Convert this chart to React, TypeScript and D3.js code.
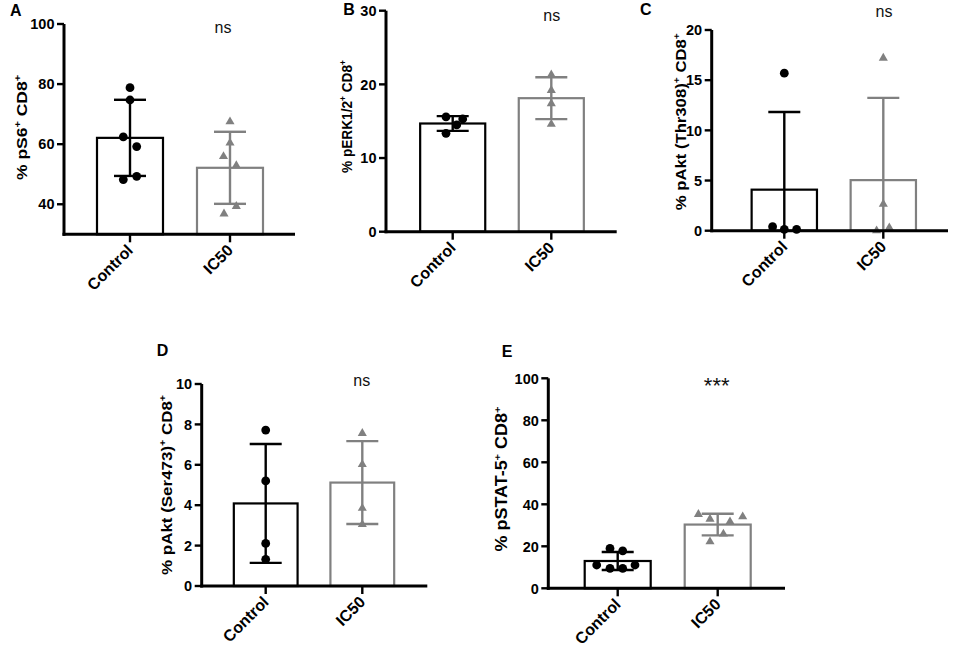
import React from 'react';
import * as d3 from 'd3';

// ---------------- data ----------------
const categories = ['Control', 'IC50'];

const pS6Control = [78.8, 74.7, 62.4, 59.2, 48.2, 49.3];
const pS6IC50 = [67.5, 60.4, 55.9, 52.9, 39.3, 36.8];

const pERKControl = [15.6, 15.3, 14.5, 13.35];
const pERKIC50 = [21.3, 19.2, 17.4, 14.6];

const pAktThrControl = [15.7, 0.4, 0.13, 0.13];
const pAktThrIC50 = [17.2, 2.66, 0.0, 0.3];

const pAktSerControl = [7.72, 5.2, 2.11, 1.32];
const pAktSerIC50 = [7.56, 6.02, 3.85, 3.05];

const pSTATControl = [19.0, 17.8, 11.1, 11.1, 9.5, 9.5];
const pSTATIC50 = [35.2, 33.0, 34.1, 31.7, 25.9, 22.2];

const ticksA = [40, 60, 80, 100];
const ticksB = [0, 10, 20, 30];
const ticksC = [0, 5, 10, 15, 20];
const ticksD = [0, 2, 4, 6, 8, 10];
const ticksE = [0, 20, 40, 60, 80, 100];

const significance = ['ns', 'ns', 'ns', 'ns', '***'];

// horizontal scatter offsets of the points (layout, px)
const jitterA = [[0, 0, -6.7, 6.7, -6.7, 6.7], [0, 0, -6.5, 6.3, 6.3, -6]];
const jitterB = [[-6.7, 10, 4, -6.7], [0, 0, 0, 0]];
const jitterC = [[0, -11.7, 0, 12.3], [0, 0, -6.7, 6]];
const jitterD = [[0, 0, 0, 0], [0, 0, 0, 0]];
const jitterE = [[-7.7, 5, -21, 17.3, -7.7, 5], [-19.3, -7.7, 25, 12.3, 5.7, -7.7]];

// ---------------- layout ----------------
const BLACK = '#000000';
const GREY = '#808080';
const FONT = '"Liberation Sans", Arial, Helvetica, sans-serif';

type Seg = [string, boolean];

const panels = [
  {
    letter: 'A', letterPos: [10, 16],
    values: [pS6Control, pS6IC50], jitter: jitterA,
    domain: [30, 100], range: [234.3, 24], ticks: ticksA,
    ax: 64, xEnd: 295, centers: [130, 230],
    yLabel: [['% pS6', false], ['+', true], [' CD8', false], ['+', true]] as Seg[],
    yLabelPos: [26.7, 127.5], yLabelLen: 105, yLabelSize: 15.5,
    sigPos: [223, 33.3],
  },
  {
    letter: 'B', letterPos: [343.3, 15],
    values: [pERKControl, pERKIC50], jitter: jitterB,
    domain: [0, 30], range: [231.7, 10.7], ticks: ticksB,
    ax: 386, xEnd: 616.7, centers: [452.7, 551.3],
    yLabel: [['% pERK1/2', false], ['+', true], [' CD8', false], ['+', true]] as Seg[],
    yLabelPos: [351.7, 116.5], yLabelLen: 113, yLabelSize: 14,
    sigPos: [551.7, 20.7],
  },
  {
    letter: 'C', letterPos: [640, 15],
    values: [pAktThrControl, pAktThrIC50], jitter: jitterC,
    domain: [0, 20], range: [230.7, 30], ticks: ticksC,
    ax: 711.7, xEnd: 948, centers: [784.3, 883.3],
    yLabel: [['% pAkt (Thr308)', false], ['+', true], [' CD8', false], ['+', true]] as Seg[],
    yLabelPos: [686, 121.7], yLabelLen: 177, yLabelSize: 14,
    sigPos: [884, 17.3],
  },
  {
    letter: 'D', letterPos: [156.7, 356],
    values: [pAktSerControl, pAktSerIC50], jitter: jitterD,
    domain: [0, 10], range: [586, 384], ticks: ticksD,
    ax: 201.7, xEnd: 427.3, centers: [265.7, 362.3],
    yLabel: [['% pAkt (Ser473)', false], ['+', true], [' CD8', false], ['+', true]] as Seg[],
    yLabelPos: [172, 485], yLabelLen: 180, yLabelSize: 14.5,
    sigPos: [361.7, 386],
  },
  {
    letter: 'E', letterPos: [501.7, 357.3],
    values: [pSTATControl, pSTATIC50], jitter: jitterE,
    domain: [0, 100], range: [588.3, 378.3], ticks: ticksE,
    ax: 548.3, xEnd: 785, centers: [617.7, 717.7],
    yLabel: [['% pSTAT-5', false], ['+', true], [' CD8', false], ['+', true]] as Seg[],
    yLabelPos: [507, 479], yLabelLen: 145, yLabelSize: 16,
    sigPos: [716.7, 393],
  },
];

const triangle = d3.symbol(d3.symbolTriangle, 36)() as string;

function Panel({ p, sig }: { p: (typeof panels)[number]; sig: string }) {
  const step = p.centers[1] - p.centers[0];
  const x = d3
    .scaleBand<string>()
    .domain(categories)
    .range([p.centers[0] - step / 2, p.centers[1] + step / 2])
    .paddingInner(0.34)
    .paddingOuter(0.17);
  const y = d3.scaleLinear().domain(p.domain).range(p.range);
  const y0 = p.range[0];
  const bw = x.bandwidth();
  const capHalf = 16;

  return (
    <g>
      {/* panel letter */}
      <text x={p.letterPos[0]} y={p.letterPos[1]} fontSize={16} fontWeight="bold" fill={BLACK}>
        {p.letter}
      </text>

      {/* bars + error bars */}
      {categories.map((cat, ci) => {
        const vals = p.values[ci];
        const m = d3.mean(vals) as number;
        const sd = d3.deviation(vals) as number;
        const color = ci === 0 ? BLACK : GREY;
        const bx = x(cat) as number;
        const cx = bx + bw / 2;
        const hi = m + sd;
        const lo = m - sd;
        const loClamped = Math.max(lo, p.domain[0]);
        return (
          <g key={cat}>
            <rect
              x={bx}
              y={y(m)}
              width={bw}
              height={y0 - y(m)}
              fill="#ffffff"
              stroke={color}
              strokeWidth={2.2}
            />
            <line x1={cx} x2={cx} y1={y(hi)} y2={y(loClamped)} stroke={color} strokeWidth={2.4} />
            <line x1={cx - capHalf} x2={cx + capHalf} y1={y(hi)} y2={y(hi)} stroke={color} strokeWidth={2.4} />
            {lo >= p.domain[0] && (
              <line x1={cx - capHalf} x2={cx + capHalf} y1={y(lo)} y2={y(lo)} stroke={color} strokeWidth={2.4} />
            )}
          </g>
        );
      })}

      {/* points */}
      {categories.map((cat, ci) => {
        const cx = (x(cat) as number) + bw / 2;
        return p.values[ci].map((v, i) =>
          ci === 0 ? (
            <circle key={cat + i} cx={cx + p.jitter[ci][i]} cy={y(v)} r={4.4} fill={BLACK} />
          ) : (
            <path
              key={cat + i}
              d={triangle}
              transform={`translate(${cx + p.jitter[ci][i]},${y(v)})`}
              fill={GREY}
            />
          )
        );
      })}

      {/* y axis */}
      <line x1={p.ax} x2={p.ax} y1={y0 + 1.5} y2={p.range[1]} stroke={BLACK} strokeWidth={3} />
      {p.ticks.map((t) => (
        <g key={t}>
          <line x1={p.ax - 7} x2={p.ax} y1={y(t)} y2={y(t)} stroke={BLACK} strokeWidth={2.4} />
          <text
            x={p.ax - 9.5}
            y={y(t)}
            dy="0.36em"
            textAnchor="end"
            fontSize={14.5}
            fontWeight="bold"
            fill={BLACK}
          >
            {t}
          </text>
        </g>
      ))}

      {/* x axis */}
      <line x1={p.ax - 1.5} x2={p.xEnd} y1={y0} y2={y0} stroke={BLACK} strokeWidth={3} />
      {categories.map((cat) => {
        const cx = (x(cat) as number) + bw / 2;
        return (
          <g key={cat}>
            <line x1={cx} x2={cx} y1={y0} y2={y0 + 8} stroke={BLACK} strokeWidth={2.4} />
            <text
              transform={`translate(${cx + 4},${y0 + 17}) rotate(-45)`}
              textAnchor="end"
              fontSize={16}
              fontWeight="bold"
              fill={BLACK}
            >
              {cat}
            </text>
          </g>
        );
      })}

      {/* y label */}
      <text
        transform={`translate(${p.yLabelPos[0]},${p.yLabelPos[1]}) rotate(-90)`}
        textAnchor="middle"
        fontSize={p.yLabelSize}
        fontWeight="bold"
        fill={BLACK}
        textLength={p.yLabelLen}
        lengthAdjust="spacingAndGlyphs"
      >
        {p.yLabel.map((s, i) =>
          s[1] ? (
            <tspan key={i} fontSize={p.yLabelSize * 0.62} dy={-p.yLabelSize * 0.4}>
              {s[0]}
            </tspan>
          ) : (
            <tspan key={i} dy={i === 0 ? 0 : p.yLabelSize * 0.4}>
              {s[0]}
            </tspan>
          )
        )}
      </text>

      {/* significance */}
      <text
        x={p.sigPos[0]}
        y={p.sigPos[1]}
        textAnchor="middle"
        fontSize={sig === 'ns' ? 16 : 22}
        fill="#111111"
      >
        {sig}
      </text>
    </g>
  );
}

export default function App() {
  return (
    <svg
      width={957}
      height={650}
      viewBox="0 0 957 650"
      style={{ position: 'absolute', left: 0, top: 0, display: 'block', background: '#ffffff' }}
      fontFamily={FONT}
    >
      <rect x={0} y={0} width={957} height={650} fill="#ffffff" />
      {panels.map((p, i) => (
        <Panel key={p.letter} p={p} sig={significance[i]} />
      ))}
    </svg>
  );
}
